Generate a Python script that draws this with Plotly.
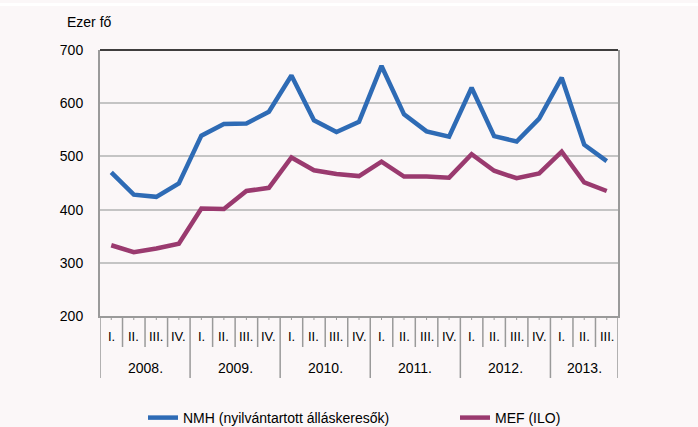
import plotly.graph_objects as go

years = ["2008.", "2009.", "2010.", "2011.", "2012.", "2013."]
quarter_labels = ["I.", "II.", "III.", "IV."] * 5 + ["I.", "II.", "III."]
nmh = [470, 428, 424, 449, 539, 561, 562, 584, 652, 568, 546, 565,
       670, 579, 547, 537, 629, 538, 528, 571, 648, 522, 491]
mef = [333, 320, 327, 336, 402, 401, 435, 441, 498, 474, 467, 463,
       490, 462, 462, 460, 504, 473, 459, 468, 509, 451, 435]
y_ticks = [200, 300, 400, 500, 600, 700]

FONT = "Liberation Sans Narrow, Arial Narrow, Liberation Sans, Arial, sans-serif"
BLUE = "#2E6BB5"
PURPLE = "#9A3A6F"
n = len(quarter_labels)
xs = list(range(n))

PW = 518.0  # plot width px
PH = 266.0  # plot height px
def py(px):
    return -px / PH
def px_(p):
    return (p - 100) / PW

fig = go.Figure()
fig.add_trace(go.Scatter(x=xs, y=nmh, mode="lines", name="NMH (nyilvántartott álláskeresők)",
                         line=dict(color=BLUE, width=4.5), legend="legend"))
fig.add_trace(go.Scatter(x=xs, y=mef, mode="lines", name="MEF (ILO)",
                         line=dict(color=PURPLE, width=4.5), legend="legend2"))

shapes = []
shapes.append(dict(type="rect", xref="paper", yref="paper", x0=px_(0), x1=px_(698),
                   y0=1 + 44 / PH, y1=1 + 47 / PH, fillcolor="#FFFFFF", line=dict(width=0),
                   layer="above"))
shapes.append(dict(type="line", xref="paper", yref="paper", x0=0, x1=1, y0=1, y1=1,
                   line=dict(color="#000000", width=1.5)))
for i in range(n + 1):
    b = i - 0.5
    year_boundary = (i % 4 == 0) or i == n
    length = 62 if year_boundary else 31
    shapes.append(dict(type="line", xref="x", yref="paper", x0=b, x1=b, y0=0, y1=py(length),
                       line=dict(color="#9A9A9A", width=1.5)))
for i in range(n):
    shapes.append(dict(type="line", xref="x", yref="paper", x0=i, x1=i, y0=0, y1=py(4),
                       line=dict(color="#9A9A9A", width=1)))

tf = dict(family=FONT, size=14, color="#000000")
qf = dict(family=FONT, size=13, color="#000000")
annotations = []
for i, q in enumerate(quarter_labels):
    annotations.append(dict(x=i, y=py(20), xref="x", yref="paper", text=q, showarrow=False,
                            font=qf, xanchor="center", yanchor="middle"))
for k, yr in enumerate(years):
    start = 4 * k
    end = min(4 * k + 3, n - 1)
    annotations.append(dict(x=(start + end) / 2, y=py(52), xref="x", yref="paper", text=yr,
                            showarrow=False, font=tf, xanchor="center", yanchor="middle"))
annotations.append(dict(x=px_(65), y=1 + 28 / PH, xref="paper", yref="paper", text="Ezer fő",
                        showarrow=False, font=tf, xanchor="left", yanchor="middle"))

leg_common = dict(orientation="h", y=py(102), xanchor="left", yanchor="middle",
                  bgcolor="rgba(0,0,0,0)", font=tf, itemwidth=30)

fig.update_layout(
    width=698, height=427,
    margin=dict(l=100, r=80, t=50, b=111, autoexpand=False),
    paper_bgcolor="#FBF7F8",
    plot_bgcolor="#FBF7F8",
    font=tf,
    showlegend=True,
    legend=dict(x=px_(143), **leg_common),
    legend2=dict(x=px_(455), **leg_common),
    xaxis=dict(range=[-0.5, n - 0.5], showgrid=False, zeroline=False, showticklabels=False,
               showline=True, linecolor="#9A9A9A", linewidth=2, ticks=""),
    yaxis=dict(range=[200, 700], tickvals=y_ticks, showgrid=True, gridcolor="#C4C4C4", gridwidth=1.5,
               zeroline=False, showline=True, linecolor="#9A9A9A", linewidth=2, mirror=True,
               ticks="", ticklabelstandoff=12, tickfont=tf),
    shapes=shapes,
    annotations=annotations,
)

fig.write_html("out.html", config={"displayModeBar": False},
               post_script="document.body.style.margin='0';document.body.style.overflow='hidden';")
